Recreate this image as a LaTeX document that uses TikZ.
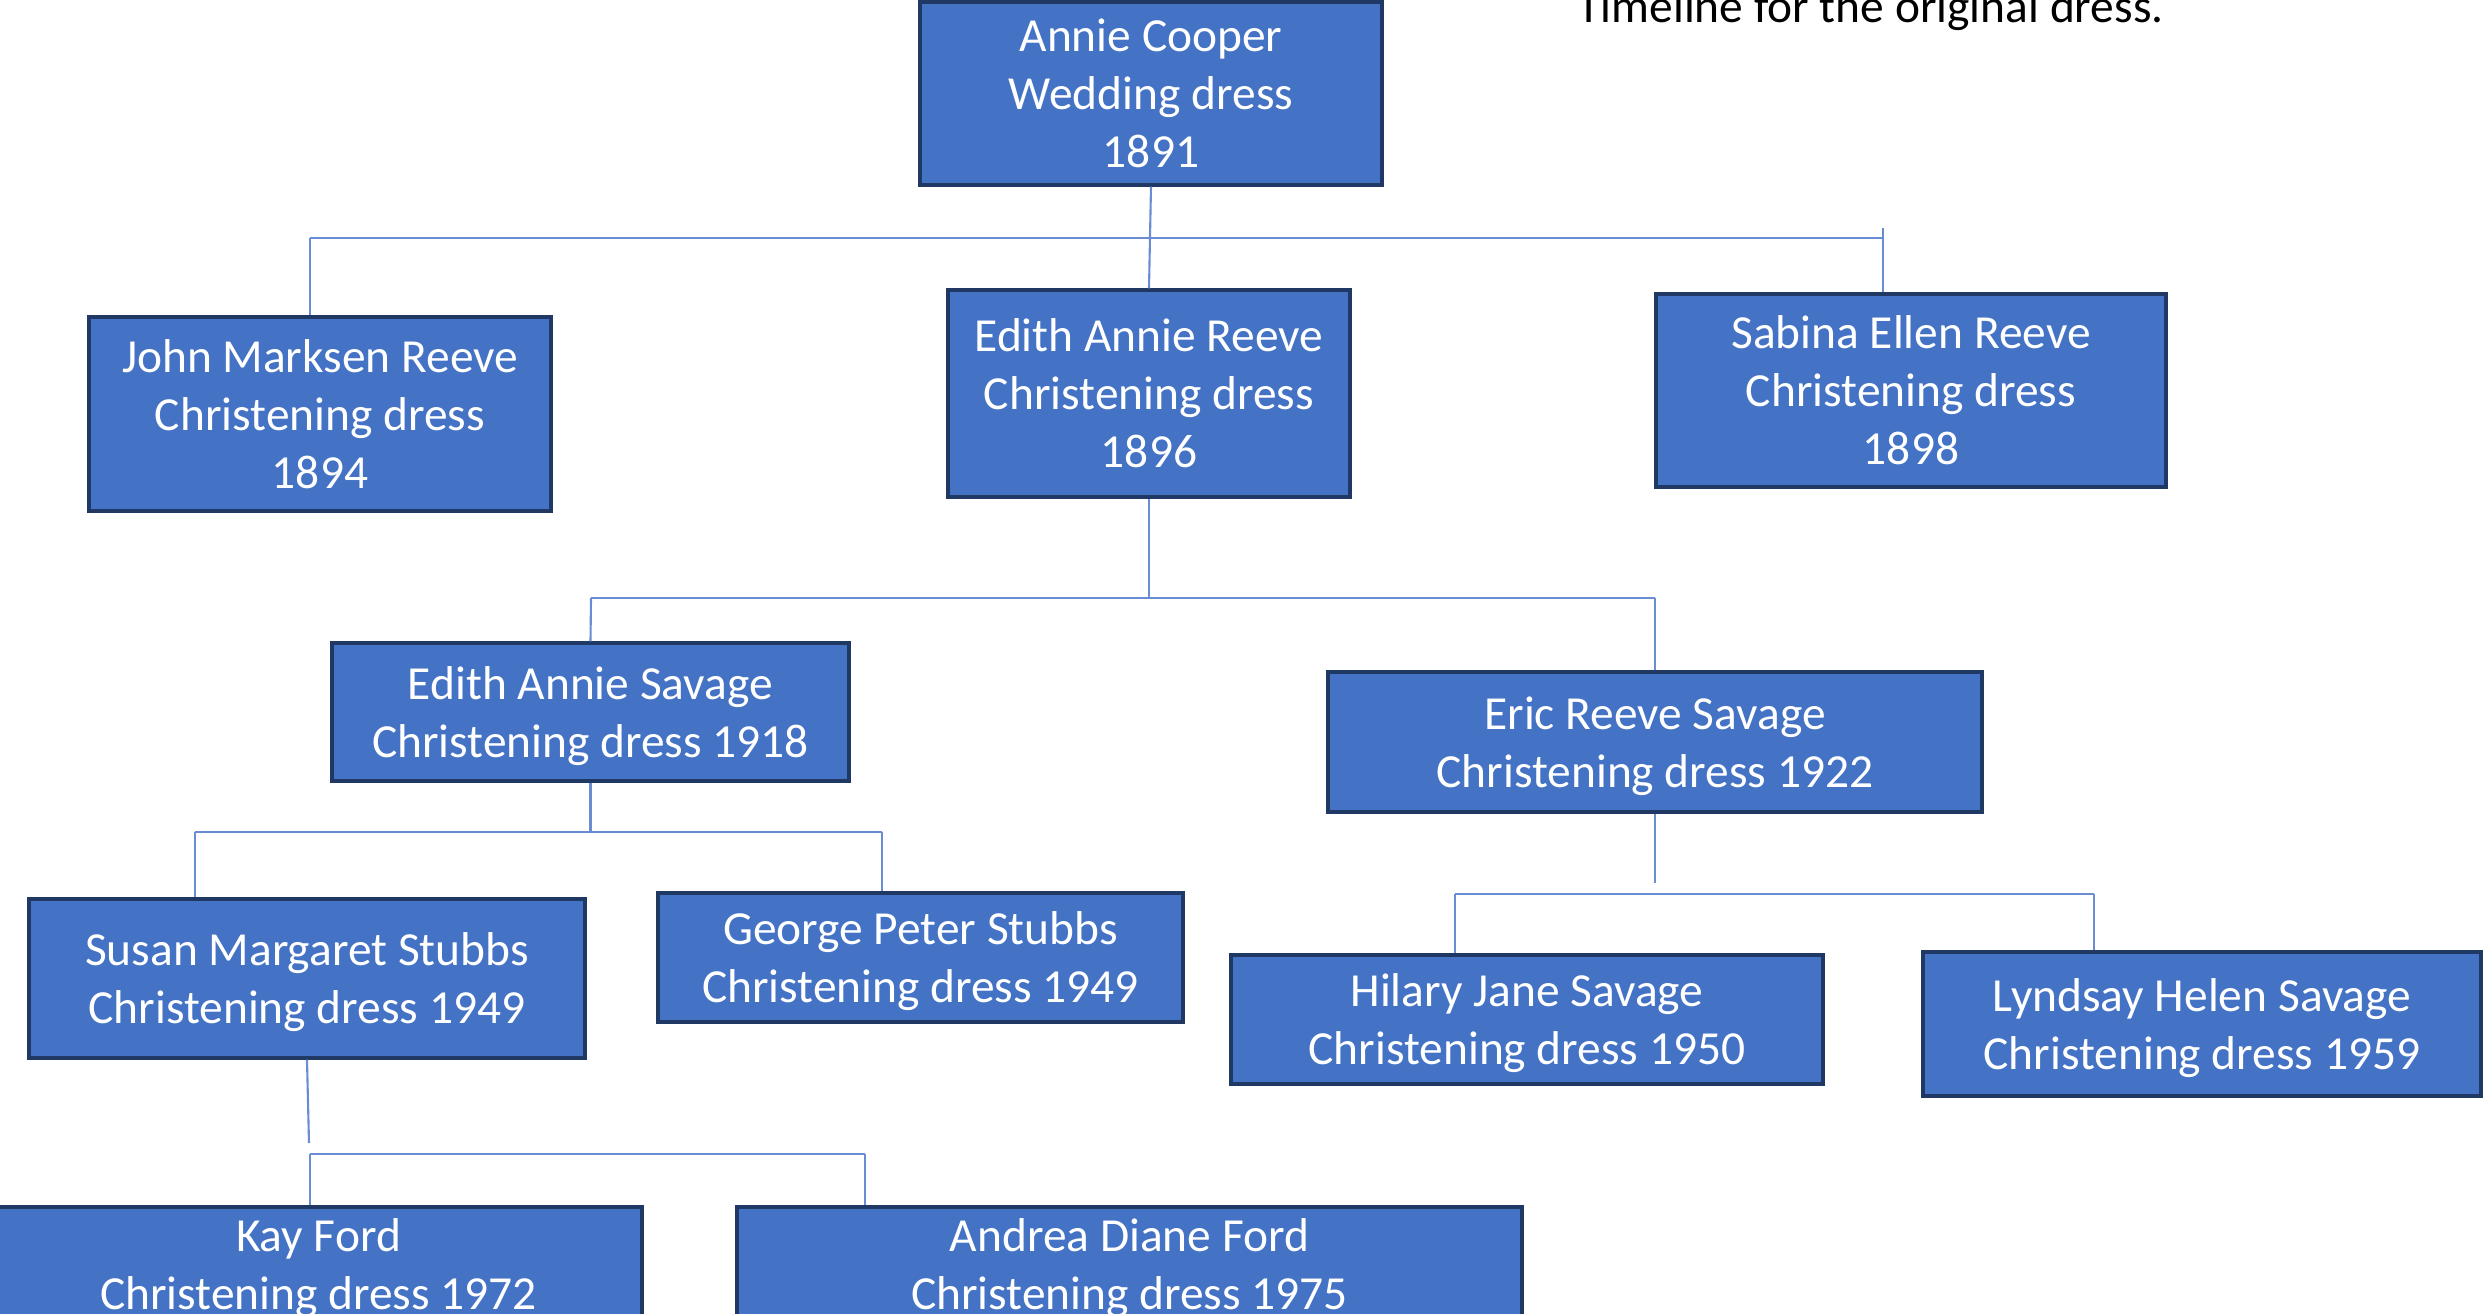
\documentclass[tikz,border=0pt]{standalone}
\usepackage{fontspec}
\setmainfont{Carlito}

\definecolor{boxfill}{RGB}{68,114,196}
\definecolor{boxline}{RGB}{32,56,100}
\definecolor{linkblue}{RGB}{105,140,210}

\tikzset{
  person/.style={draw=boxline, fill=boxfill, line width=0.9pt, text=white, align=center,
    inner sep=0pt, text depth=0pt, font=\fontsize{13.5}{16.5}\selectfont},
  link/.style={draw=linkblue, line width=0.6pt}
}

\begin{document}
\begin{tikzpicture}[scale=1]

\useasboundingbox (0,0) rectangle (24.84,-13.14);

\node[anchor=base west, inner sep=0pt, font=\fontsize{13.5}{16.5}\selectfont] (title) at (15.77,-0.23) {Timeline for the original dress.};

% first generation
\node[person, minimum width=4.62cm, minimum height=1.83cm] (annie) at (11.51,-0.935) {Annie Cooper\\Wedding dress\\1891};

\node[person, minimum width=4.62cm, minimum height=1.94cm] (john) at (3.20,-4.14) {John Marksen Reeve\\Christening dress\\1894};
\node[person, minimum width=4.02cm, minimum height=2.07cm] (edithR) at (11.49,-3.935) {Edith Annie Reeve\\Christening dress\\1896};
\node[person, minimum width=5.10cm, minimum height=1.93cm] (sabina) at (19.11,-3.905) {Sabina Ellen Reeve\\Christening dress\\1898};

\node[person, minimum width=5.17cm, minimum height=1.38cm] (edithS) at (5.905,-7.12) {Edith Annie Savage\\Christening dress 1918};
\node[person, minimum width=6.54cm, minimum height=1.40cm] (eric) at (16.55,-7.42) {Eric Reeve Savage\\Christening dress 1922};

\node[person, minimum width=5.56cm, minimum height=1.59cm] (susan) at (3.07,-9.785) {Susan Margaret Stubbs\\Christening dress 1949};
\node[person, minimum width=5.25cm, minimum height=1.29cm] (george) at (9.205,-9.575) {George Peter Stubbs\\Christening dress 1949};
\node[person, minimum width=5.92cm, minimum height=1.29cm] (hilary) at (15.27,-10.195) {Hilary Jane Savage\\Christening dress 1950};
\node[person, minimum width=5.58cm, minimum height=1.44cm] (lyndsay) at (22.02,-10.24) {Lyndsay Helen Savage\\Christening dress 1959};

\node[person, minimum width=6.47cm, minimum height=1.14cm] (kay) at (3.185,-12.64) {Kay Ford\\Christening dress 1972};
\node[person, minimum width=7.85cm, minimum height=1.14cm] (andrea) at (11.295,-12.64) {Andrea Diane Ford\\Christening dress 1975};

% bars between the generations
\coordinate (j1) at (3.10,-2.38);
\coordinate (s1) at (18.83,-2.38);
\coordinate (es2) at (5.91,-5.98);
\coordinate (er2) at (16.55,-5.98);
\coordinate (su3) at (1.95,-8.32);
\coordinate (ge3) at (8.82,-8.32);
\coordinate (er4) at (16.55,-8.83);
\coordinate (hi4) at (14.55,-8.94);
\coordinate (ly4) at (20.94,-8.94);
\coordinate (su5) at (3.09,-11.43);
\coordinate (ka5) at (3.10,-11.54);
\coordinate (an5) at (8.65,-11.54);

\draw[link] (annie.south) -- (edithR.north);
\draw[link] (j1) -- (s1);
\draw[link] (j1) -- (j1 |- john.north);
\draw[link] ([yshift=0.1cm]s1) -- (s1 |- sabina.north);

\draw[link] (edithR.south) -- (edithR.south |- es2);
\draw[link] (es2) -- (er2);
\draw[link] (es2) -- (edithS.north);
\draw[link] (er2) -- (eric.north);

\draw[link] (edithS.south) -- (edithS.south |- su3);
\draw[link] (su3) -- (ge3);
\draw[link] (su3) -- (su3 |- susan.north);
\draw[link] (ge3) -- (ge3 |- george.north);

\draw[link] (eric.south) -- (er4);
\draw[link] (hi4) -- (ly4);
\draw[link] (hi4) -- (hi4 |- hilary.north);
\draw[link] (ly4) -- (ly4 |- lyndsay.north);

\draw[link] (susan.south) -- (su5);
\draw[link] (ka5) -- (an5);
\draw[link] (ka5) -- (ka5 |- kay.north);
\draw[link] (an5) -- (an5 |- andrea.north);

\end{tikzpicture}
\end{document}
